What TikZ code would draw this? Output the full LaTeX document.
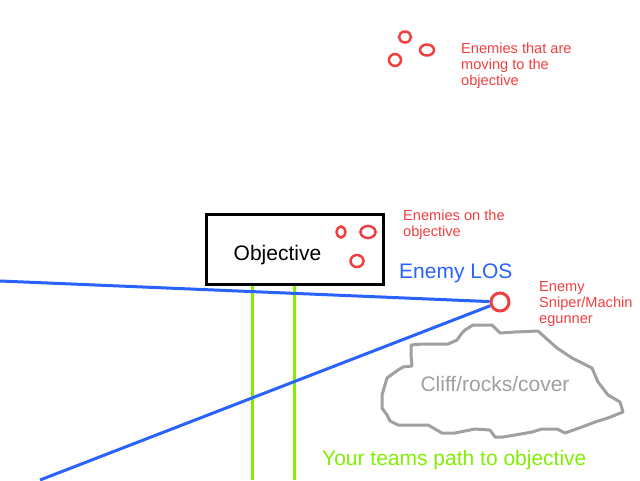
\documentclass[tikz,border=0pt]{standalone}
\usepackage{fontspec}
\setmainfont{Liberation Sans}
\begin{document}
\begin{tikzpicture}[x=1pt,y=-1pt,
  enemy/.style={draw=enemyred,line width=2.5pt},
  redtxt/.style={text=enemyred,font=\fontsize{14.6}{16}\selectfont,align=left,anchor=north west,inner sep=0pt},
  bigtxt/.style={font=\fontsize{21}{24}\selectfont,inner sep=0pt},
  los/.style={draw=losblue,line width=3pt},
  path/.style={draw=pathgreen,line width=3pt},
]
\definecolor{enemyred}{HTML}{F04040}
\definecolor{losblue}{HTML}{2962FF}
\definecolor{pathgreen}{HTML}{80F000}
\definecolor{cliffgray}{HTML}{A0A0A0}
\useasboundingbox (0,0) rectangle (640,480);
\fill[white] (0,0) rectangle (640,480);
% moving enemies
\draw[enemy] (405,37) ellipse (6 and 5.5) coordinate (m1);
\draw[enemy] (427,50) ellipse (7 and 5.5) coordinate (m2);
\draw[enemy] (395,60) ellipse (6 and 6) coordinate (m3);
\node[redtxt] (movtxt) at (461,42.5) {Enemies that are\\moving to the\\objective};
% objective
\node[draw=black,line width=3pt,minimum width=177,minimum height=70,inner sep=0pt,anchor=north west] (obj) at (205,213) {};
\node[bigtxt,anchor=base] (objtxt) at (277.5,260) {Objective};
\draw[enemy] (341,232) ellipse (4.5 and 5.5) coordinate (o1);
\draw[enemy] (368,232) ellipse (7.5 and 6) coordinate (o2);
\draw[enemy] (357,261) ellipse (6.5 and 6) coordinate (o3);
\node[redtxt] (ontxt) at (403,209.5) {Enemies on the\\objective};
% path
\coordinate (p1top) at (252,286);
\coordinate (p1bot) at (252,480);
\coordinate (p2top) at (294,286);
\coordinate (p2bot) at (294,480);
\draw[path] (p1top) -- (p1bot);
\draw[path] (p2top) -- (p2bot);
% sniper
\node[circle,draw=enemyred,line width=3pt,minimum size=18,inner sep=0pt] (sniper) at (500,302) {};
\coordinate (losL) at (0,281);
\coordinate (losB) at (40,480);
\draw[los] (losL) -- (sniper);
\draw[los] (sniper) -- (losB);
\node[bigtxt,text=losblue,anchor=base west] (lostxt) at (399,278) {Enemy LOS};
\node[redtxt] (snipertxt) at (539,281.5) {Enemy\\Sniper/Machin\\egunner};
% cliff
\draw[cliffgray,line width=3pt,line join=round] (411,345) -- (422,344) -- (448,344) -- (457,340) -- (462,333) -- (465,330) -- (473,325) -- (492,325) -- (500,333) -- (515,332) -- (538,331) -- (548,340) -- (557,348) -- (572,358) -- (592,368) -- (598,382) -- (608,395) -- (620,402) -- (623,412) -- (608,418) -- (595,422) -- (582,427) -- (565,433) -- (557,429) -- (542,429) -- (532,432) -- (515,435) -- (503,437) -- (495,437) -- (490,430) -- (475,429) -- (455,433) -- (442,433) -- (428,425) -- (398,425) -- (390,421) -- (387,415) -- (382,408) -- (382,395) -- (387,378) -- (398,370) -- (403,367) -- (412,366) -- (411,355) -- cycle;
\node[bigtxt,text=cliffgray,anchor=base] (clifftxt) at (495,391) {Cliff/rocks/cover};
\node[bigtxt,text=pathgreen,anchor=base west] (pathtxt) at (322,465) {Your teams path to objective};
\end{tikzpicture}
\end{document}
